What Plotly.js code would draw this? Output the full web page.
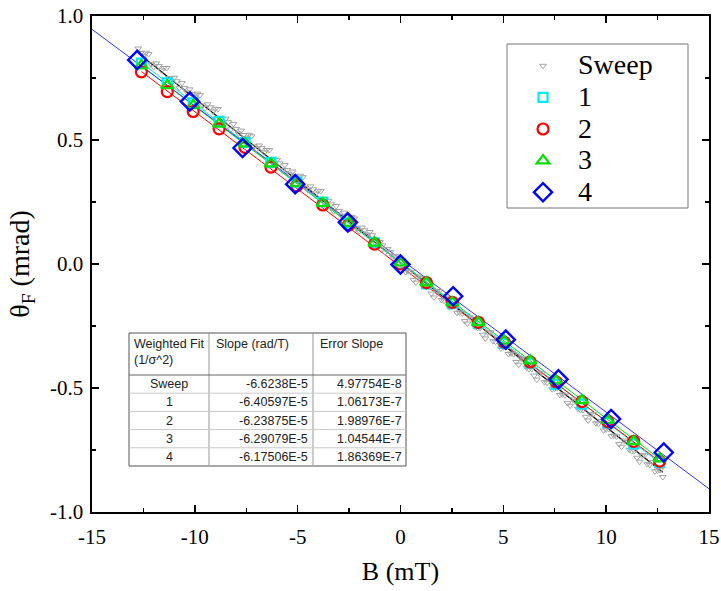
<!DOCTYPE html>
<html>
<head>
<meta charset="utf-8">
<script src="https://cdn.plot.ly/plotly-3.0.1.min.js"></script>
<style>html,body{margin:0;padding:0;background:#fff;} #chart{width:721px;height:591px;}</style>
</head>
<body>
<div id="chart"></div>
<script>
// ---------- DATA ----------
const sweepUpX = [-12.75,-12.5,-12.25,-12.0,-11.75,-11.5,-11.25,-11.0,-10.75,-10.5,-10.25,-10.0,-9.75,-9.5,-9.25,-9.0,-8.75,-8.5,-8.25,-8.0,-7.75,-7.5,-7.25,-7.0,-6.75,-6.5,-6.25,-6.0,-5.75,-5.5,-5.25,-5.0,-4.75,-4.5,-4.25,-4.0,-3.75,-3.5,-3.25,-3.0,-2.75,-2.5,-2.25,-2.0,-1.75,-1.5,-1.25,-1.0,-0.75,-0.5,-0.25,0.0,0.25,0.5,0.75,1.0,1.25,1.5,1.75,2.0,2.25,2.5,2.75,3.0,3.25,3.5,3.75,4.0,4.25,4.5,4.75,5.0,5.25,5.5,5.75,6.0,6.25,6.5,6.75,7.0,7.25,7.5,7.75,8.0,8.25,8.5,8.75,9.0,9.25,9.5,9.75,10.0,10.25,10.5,10.75,11.0,11.25,11.5,11.75,12.0,12.25,12.5,12.75];
const sweepUpY = [0.869,0.838,0.846,0.794,0.798,0.791,0.750,0.751,0.709,0.710,0.704,0.672,0.681,0.629,0.632,0.626,0.584,0.586,0.543,0.545,0.538,0.507,0.515,0.463,0.467,0.460,0.419,0.420,0.378,0.379,0.373,0.341,0.350,0.298,0.301,0.295,0.253,0.255,0.212,0.214,0.207,0.176,0.184,0.132,0.136,0.129,0.088,0.089,0.047,0.048,0.032,0.010,-0.032,-0.033,-0.075,-0.056,-0.093,-0.119,-0.111,-0.145,-0.136,-0.171,-0.197,-0.199,-0.240,-0.222,-0.258,-0.285,-0.276,-0.311,-0.302,-0.336,-0.363,-0.364,-0.406,-0.387,-0.424,-0.450,-0.442,-0.476,-0.467,-0.502,-0.528,-0.530,-0.571,-0.553,-0.589,-0.616,-0.607,-0.642,-0.633,-0.667,-0.694,-0.695,-0.737,-0.718,-0.755,-0.781,-0.773,-0.807,-0.798,-0.833,-0.859];
const sweepDownX = [-12.625,-12.375,-12.125,-11.875,-11.625,-11.375,-11.125,-10.875,-10.625,-10.375,-10.125,-9.875,-9.625,-9.375,-9.125,-8.875,-8.625,-8.375,-8.125,-7.875,-7.625,-7.375,-7.125,-6.875,-6.625,-6.375,-6.125,-5.875,-5.625,-5.375,-5.125,-4.875,-4.625,-4.375,-4.125,-3.875,-3.625,-3.375,-3.125,-2.875,-2.625,-2.375,-2.125,-1.875,-1.625,-1.375,-1.125,-0.875,-0.625,-0.375,-0.125,0.125,0.375,0.625,0.875,1.125,1.375,1.625,1.875,2.125,2.375,2.625,2.875,3.125,3.375,3.625,3.875,4.125,4.375,4.625,4.875,5.125,5.375,5.625,5.875,6.125,6.375,6.625,6.875,7.125,7.375,7.625,7.875,8.125,8.375,8.625,8.875,9.125,9.375,9.625,9.875,10.125,10.375,10.625,10.875,11.125,11.375,11.625,11.875,12.125,12.375,12.625];
const sweepDownY = [0.851,0.852,0.805,0.809,0.781,0.790,0.732,0.737,0.730,0.692,0.685,0.687,0.639,0.644,0.615,0.625,0.566,0.572,0.565,0.526,0.520,0.521,0.474,0.478,0.450,0.459,0.401,0.406,0.399,0.361,0.354,0.356,0.308,0.313,0.284,0.294,0.235,0.241,0.234,0.195,0.189,0.190,0.143,0.147,0.119,0.116,0.070,0.075,0.061,0.030,0.018,-0.012,-0.030,-0.064,-0.050,-0.087,-0.092,-0.135,-0.109,-0.148,-0.174,-0.169,-0.195,-0.230,-0.215,-0.253,-0.258,-0.300,-0.275,-0.313,-0.340,-0.334,-0.361,-0.395,-0.381,-0.418,-0.423,-0.466,-0.440,-0.479,-0.505,-0.500,-0.526,-0.561,-0.546,-0.584,-0.589,-0.631,-0.606,-0.644,-0.671,-0.665,-0.692,-0.726,-0.712,-0.749,-0.754,-0.797,-0.771,-0.810,-0.836,-0.831];

const setX = [-12.6,-11.34,-10.08,-8.82,-7.56,-6.3,-5.04,-3.78,-2.52,-1.26,0,1.26,2.52,3.78,5.04,6.3,7.56,8.82,10.08,11.34,12.6];
const set1Y = [0.81,0.73,0.65,0.575,0.49,0.41,0.33,0.25,0.165,0.085,0.0,-0.08,-0.16,-0.24,-0.32,-0.40,-0.485,-0.565,-0.64,-0.725,-0.80];
const set2Y = [0.775,0.695,0.615,0.545,0.47,0.391,0.315,0.238,0.157,0.08,0.0,-0.075,-0.155,-0.235,-0.315,-0.395,-0.475,-0.555,-0.635,-0.715,-0.795];
const set3Y = [0.80,0.72,0.64,0.565,0.485,0.405,0.325,0.245,0.165,0.085,0.005,-0.075,-0.155,-0.235,-0.31,-0.39,-0.47,-0.55,-0.63,-0.715,-0.785];
const set4X = [-12.8,-10.24,-7.68,-5.12,-2.56,0,2.56,5.12,7.68,10.24,12.8];
const set4Y = [0.823,0.655,0.468,0.322,0.168,-0.002,-0.13,-0.305,-0.465,-0.625,-0.76];

const seriesNames = ['Sweep','1','2','3','4'];
const tableSlopes = ['-6.6238E-5','-6.40597E-5','-6.23875E-5','-6.29079E-5','-6.17506E-5'];
const tableErrors = ['4.97754E-8','1.06173E-7','1.98976E-7','1.04544E-7','1.86369E-7'];
const fitIntercepts = [0.005,0.005,-0.01,0.007,0.02];
const fitXStart = [-12.75,-12.6,-12.6,-12.6,-15];
const fitXEnd = [12.75,12.6,12.6,12.6,15];

const xTickVals = [-15,-10,-5,0,5,10,15];
const xTickText = ['-15','-10','-5','0','5','10','15'];
const yTickVals = [-1,-0.5,0,0.5,1];
const yTickText = ['-1.0','-0.5','0.0','0.5','1.0'];

// ---------- STYLE ----------
const colors = ['#a4a4a4','#00e8ff','#ff0000','#00e000','#0000ff'];
const fitColors = ['#000000','#00e8ff','#ff0000','#00e000','#3030ff'];
const symbols = ['triangle-down-open','square-open','circle-open','triangle-up-open','diamond-open'];
const sizes = [6,9,11,11,14];
const lw = [1,2.2,2.2,2.2,2.4];

const dataX = [sweepUpX.concat(sweepDownX),setX,setX,setX,set4X];
const dataY = [sweepUpY.concat(sweepDownY),set1Y,set2Y,set3Y,set4Y];

const serif = 'Liberation Serif';
const sans = 'Liberation Sans';

const traces = [];
for (let i = 0; i < 5; i++) {
  const m = parseFloat(tableSlopes[i]) * 1000; // rad/T -> mrad/mT
  const xs = [fitXStart[i], fitXEnd[i]];
  traces.push({x: xs, y: xs.map(v => m * v + fitIntercepts[i]), mode: 'lines', showlegend: false,
    line: {color: fitColors[i], width: i === 0 ? 1.2 : 1}, hoverinfo: 'skip'});
}
for (let i = 0; i < 5; i++) {
  traces.push({x: dataX[i], y: dataY[i], mode: 'markers',
    name: '<span style="font-size:28px">' + seriesNames[i] + '</span>',
    marker: {symbol: symbols[i], size: sizes[i], color: colors[i], line: {width: lw[i], color: colors[i]}}});
}

// plot area in pixels
const L = 92, R = 709, T = 16, B = 512;
const px = v => (v - L) / (R - L);
const py = v => (B - v) / (B - T);

// table geometry (pixels)
const tL = 129, tC1 = 209, tC2 = 313, tR = 406, tT = 333, tH = 375, tB = 466;
const rowH = (tB - tH) / 5;
const shapes = [];
const ann = [];
// legend frame
shapes.push({type:'rect', xref:'paper', yref:'paper', layer:'above', x0:px(507), x1:px(688), y0:py(208), y1:py(44), line:{color:'#777', width:1}, fillcolor:'#fff'});
// table
shapes.push({type:'rect', xref:'paper', yref:'paper', x0:px(tL), x1:px(tR), y0:py(tB), y1:py(tT), line:{color:'#555', width:1}, fillcolor:'rgba(255,255,255,0)'});
[tC1, tC2].forEach(c => shapes.push({type:'line', xref:'paper', yref:'paper', x0:px(c), x1:px(c), y0:py(tB), y1:py(tT), line:{color:'#999', width:1}}));
shapes.push({type:'line', xref:'paper', yref:'paper', x0:px(tL), x1:px(tR), y0:py(tH), y1:py(tH), line:{color:'#666', width:1}});
for (let r = 1; r < 5; r++) {
  const y = tH + r * rowH;
  shapes.push({type:'line', xref:'paper', yref:'paper', x0:px(tL), x1:px(tR), y0:py(y), y1:py(y), line:{color:'#c8c8c8', width:1}});
}
const tf = {family: sans, size: 12.5, color: '#222'};
const head = ['Weighted Fit<br>(1/σ^2)', 'Slope (rad/T)', 'Error Slope'];
const headX = [tL + 3, tC1 + 5, tC2 + 5];
head.forEach((h, j) => ann.push({xref:'paper', yref:'paper', x:px(headX[j]), y:py(tT + 2), text:h, showarrow:false, xanchor:'left', yanchor:'top', align:'left', font:tf}));
for (let r = 0; r < 5; r++) {
  const yc = py(tH + (r + 0.5) * rowH);
  ann.push({xref:'paper', yref:'paper', x:px((tL + tC1) / 2), y:yc, text:seriesNames[r], showarrow:false, xanchor:'center', yanchor:'middle', font:tf});
  ann.push({xref:'paper', yref:'paper', x:px(tC2 - 3), y:yc, text:tableSlopes[r], showarrow:false, xanchor:'right', yanchor:'middle', font:tf});
  ann.push({xref:'paper', yref:'paper', x:px(tR - 2), y:yc, text:tableErrors[r], showarrow:false, xanchor:'right', yanchor:'middle', font:tf});
}

const axisCommon = {showgrid:false, zeroline:false, showline:true, linecolor:'#000', linewidth:1.6, mirror:'ticks',
  ticks:'inside', ticklen:7, tickwidth:1.4, tickcolor:'#000', tickmode:'array', tickfont:{family:serif, size:21, color:'#000'}};

const layout = {
  width: 721, height: 591,
  margin: {l: L, r: 721 - R, t: T, b: 591 - B},
  paper_bgcolor: '#fff', plot_bgcolor: '#fff',
  font: {family: serif},
  xaxis: Object.assign({}, axisCommon, {range: [-15, 15], tickvals: xTickVals, ticktext: xTickText, ticklabelstandoff: 5,
    minor: {tickmode: 'linear', tick0: 0, dtick: 2.5, ticks: 'inside', ticklen: 4, tickcolor: '#000', tickwidth: 1.2},
    title: {text: 'B (mT)', font: {family: serif, size: 26, color: '#000'}, standoff: 14}}),
  yaxis: Object.assign({}, axisCommon, {range: [-1, 1], tickvals: yTickVals, ticktext: yTickText, ticklabelstandoff: 3,
    minor: {tickmode: 'linear', tick0: 0, dtick: 0.25, ticks: 'inside', ticklen: 4, tickcolor: '#000', tickwidth: 1.2},
    title: {text: 'θ<sub>F</sub> (mrad)', font: {family: serif, size: 28, color: '#000'}, standoff: 12}}),
  showlegend: true,
  legend: {x: px(508), y: py(45), xanchor: 'left', yanchor: 'top', bgcolor: 'rgba(255,255,255,0)', borderwidth: 0,
    font: {family: serif, size: 22, color: '#000'}, itemwidth: 60, tracegroupgap: 0},
  shapes: shapes,
  annotations: ann
};

Plotly.newPlot('chart', traces, layout, {displayModeBar: false, staticPlot: true});
</script>
</body>
</html>
